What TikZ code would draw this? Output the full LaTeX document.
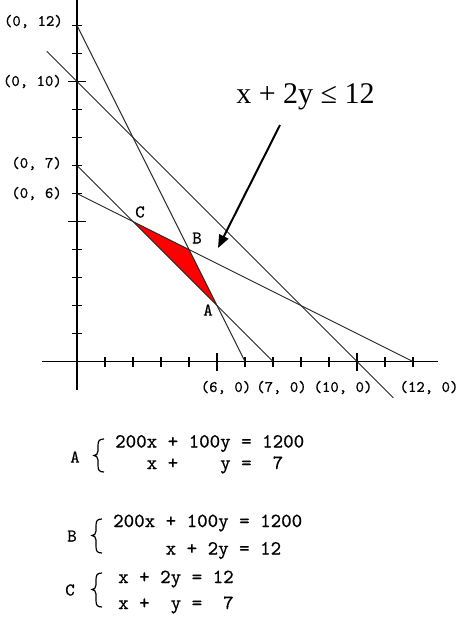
\documentclass[tikz,border=0pt]{standalone}
\usepackage{fontspec}
\setmainfont{Liberation Serif}
\newfontfamily\monof{lmmono10-regular.otf}[FakeBold=0.6]
\usetikzlibrary{arrows.meta}
\tikzset{
  axisline/.style={line width=1.6pt,black},
  cline/.style={line width=0.9pt,black!85},
  tickmark/.style={line width=1.3pt,black},
  bracepath/.style={line width=1.2pt,black},
  axlab/.style={font=\monof\fontsize{16}{16}\selectfont,inner sep=0pt},
  ptlab/.style={font=\monof\fontsize{18}{18}\selectfont,inner sep=0pt},
  eqline/.style={font=\monof\fontsize{20}{20}\selectfont,inner sep=0pt,anchor=base west},
  letterlab/.style={font=\monof\fontsize{18}{18}\selectfont,inner sep=0pt},
}
\begin{document}
\begin{tikzpicture}[x=1pt,y=-1pt]
\useasboundingbox (0,0) rectangle (460,630);
\fill[white] (0,0) rectangle (460,630);
% ---------- graph in data coordinates ----------
\begin{scope}[shift={(77pt,-361.5pt)},x=28pt,y=28pt]
  \coordinate (A) at (5,2);
  \coordinate (B) at (4,4);
  \coordinate (C) at (2,5);
  \fill[red] (C) -- (B) -- (A) -- cycle;
  % axes
  \coordinate (xl) at (-1.25,0);
  \coordinate (xr) at (12.9,0);
  \coordinate (yb) at (0,-1.02);
  \coordinate (yt) at (0,12.95);
  \draw[axisline] (xl) -- (xr);
  \draw[axisline] (yb) -- (yt);
  \foreach \i in {1,2,3,4,6,7,8,9,11,12}{
    \draw[tickmark] (\i,0) ++(0,-5pt) -- ++(0,10pt);
    \draw[tickmark] (0,\i) ++(-5pt,0) -- ++(10pt,0);
  }
  \foreach \i in {5,10}{
    \draw[tickmark] (\i,0) ++(0,-9pt) -- ++(0,18pt);
    \draw[tickmark] (0,\i) ++(-9pt,0) -- ++(18pt,0);
  }
  % constraint lines
  \coordinate (p12) at (0,12);
  \coordinate (q6) at (6,0);
  \coordinate (r1) at (-1.08,11.08);
  \coordinate (r2) at (11.3,-1.3);
  \coordinate (p7) at (0,7);
  \coordinate (q7) at (7,0);
  \coordinate (p6) at (0,6);
  \coordinate (q12) at (12,0);
  \draw[cline] (p12) -- (q6);
  \draw[cline] (r1) -- (r2);
  \draw[cline] (p7) -- (q7);
  \draw[cline] (p6) -- (q12);
\end{scope}
% ---------- axis labels ----------
\node[axlab,anchor=east] (l012) at (63,21.5) {(0, 12)};
\node[axlab,anchor=east] (l010) at (62,81.5) {(0, 10)};
\node[axlab,anchor=east] (l07) at (62,163.5) {(0, 7)};
\node[axlab,anchor=east] (l06) at (62,193.5) {(0, 6)};
\node[axlab] (l60) at (226,387.5) {(6, 0)};
\node[axlab] (l70) at (281.5,387.5) {(7, 0)};
\node[axlab] (l100) at (343,387.5) {(10, 0)};
\node[axlab] (l120) at (429,387.5) {(12, 0)};
% ---------- vertex labels ----------
\node[ptlab] (labC) at (140,212) {C};
\node[ptlab] (labB) at (197,238) {B};
\node[ptlab] (labA) at (208,310) {A};
% ---------- inequality with arrow ----------
\node[anchor=base,inner sep=0pt,font=\fontsize{30}{30}\selectfont] (ineq) at (305.5,103) {x + 2y ≤ 12};
\coordinate (arS) at (280,125);
\coordinate (arE) at (218,248);
\draw[line width=2pt,-{Triangle[length=13pt,width=10pt]}] (arS) -- (arE);
% ---------- systems ----------
\node[letterlab] (sA) at (75,457) {A};
\draw[bracepath] (104,439) .. controls (99,439) and (98,441) .. (98,446) -- (98,451)
  .. controls (98,454) and (96,455.5) .. (94,455.5) .. controls (96,455.5) and (98,457) .. (98,460)
  -- (98,465) .. controls (98,470) and (99,472) .. (104,472);
\node[eqline] (a1) at (115,447.5) {200x + 100y = 1200};
\node[eqline] (a2) at (115,469) {~~~x~+~~~~y~=~~7};
\node[letterlab] (sB) at (72,536) {B};
\draw[bracepath] (102,519) .. controls (97,519) and (96,521) .. (96,526) -- (96,531)
  .. controls (96,534) and (94,535.5) .. (92,535.5) .. controls (94,535.5) and (96,537) .. (96,540)
  -- (96,546) .. controls (96,551) and (97,553) .. (102,553);
\node[eqline] (b1) at (113,527) {200x + 100y = 1200};
\node[eqline] (b2) at (113,554.5) {~~~~~x~+~2y~=~12};
\node[letterlab] (sC) at (70,590) {C};
\draw[bracepath] (102,573) .. controls (97,573) and (96,575) .. (96,580) -- (96,585)
  .. controls (96,588) and (94,589.5) .. (92,589.5) .. controls (94,589.5) and (96,591) .. (96,594)
  -- (96,600) .. controls (96,605) and (97,607) .. (102,607);
\node[eqline] (c1) at (118,583) {x + 2y = 12};
\node[eqline] (c2) at (118,609) {x~+~~y~=~~7};
\end{tikzpicture}
\end{document}
